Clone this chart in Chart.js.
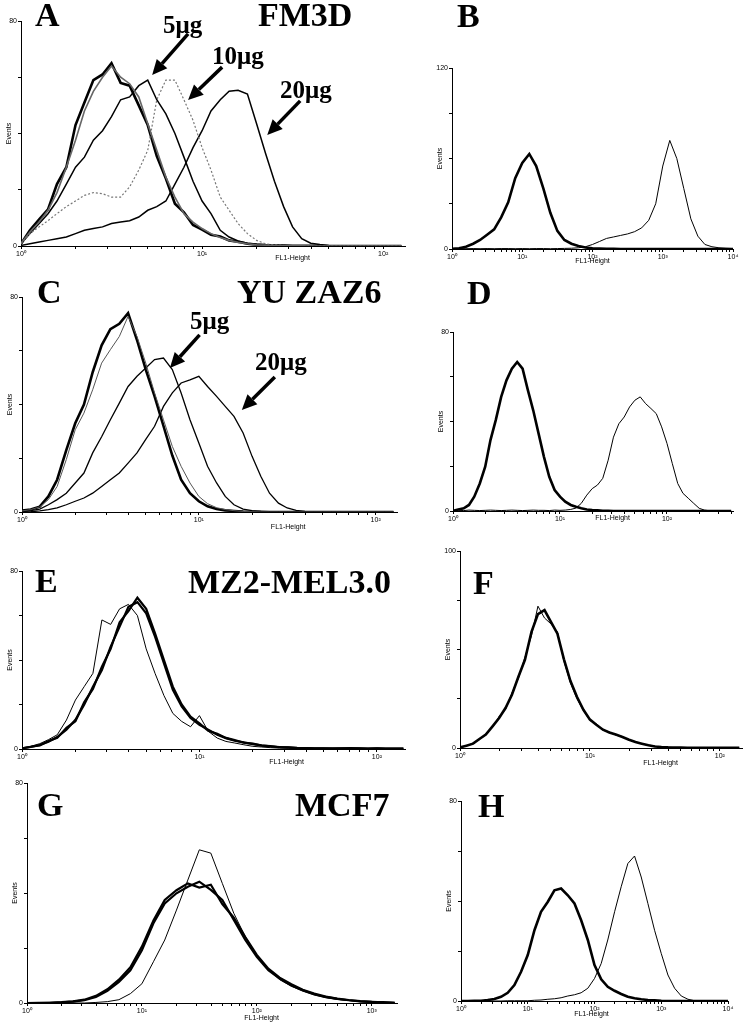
<!DOCTYPE html>
<html>
<head>
<meta charset="utf-8">
<script src="https://cdn.jsdelivr.net/npm/chart.js@4.4.1/dist/chart.umd.min.js"></script>
<style>
  html, body { margin: 0; padding: 0; background: #fff; }
  #page { position: relative; width: 745px; height: 1023px; overflow: hidden; background: #fff; }
  #page canvas { position: absolute; }
  .tag { position: absolute; font-family: "Liberation Serif", "Times New Roman", serif; font-weight: bold; color: #000; white-space: nowrap; z-index: 2; }
</style>
</head>
<body>
<div id="page"></div>
<script>
// FL1 channel positions on the log axis
const fl1Fine = [1.00, 1.12, 1.26, 1.41, 1.58, 1.78, 2.00, 2.24, 2.51, 2.82,
  3.16, 3.55, 3.98, 4.47, 5.01, 5.62, 6.31, 7.08, 7.94, 8.91,
  10.0, 11.2, 12.6, 14.1, 15.8, 17.8, 20.0, 22.4, 25.1, 28.2,
  31.6, 35.5, 39.8, 44.7, 50.1, 56.2, 63.1, 70.8, 79.4, 89.1,
  100, 112, 126, 141, 158, 178, 200, 224, 251, 282,
  316, 355, 398];
const fl1Coarse = [1.00, 1.26, 1.58, 2.00, 2.51, 3.16, 3.98, 5.01, 6.31, 7.94,
  10.0, 12.6, 15.8, 20.0, 25.1, 31.6, 39.8, 50.1, 63.1, 79.4,
  100, 126, 158, 200, 251, 316, 398, 501, 631, 794,
  1000, 1259, 1585, 1995, 2512, 3162, 3981, 5012, 6310, 7943,
  10000];
const decadeValues = [1, 10, 100, 1000, 10000];
const decadeLabels = ['10⁰', '10¹', '10²', '10³', '10⁴'];

// A - FM3D
const fm3dControl = [0.8, 5.6, 9.5, 13, 22, 28, 43, 51, 59, 61,
  65, 58, 57, 50, 43, 32, 24, 15, 12, 7.5,
  5.8, 4, 3.4, 2, 1.5, 0.8, 0.5, 0.3, 0.2, 0.2,
  0.1, 0.1, 0.1, 0.1, 0, 0, 0, 0, 0, 0, 0, 0, 0];
const fm3dIsotype = [1, 5, 8.5, 12.7, 19, 28, 37.6, 48, 55, 60,
  64, 60, 57.7, 53, 43.5, 34, 24.5, 17.4, 11.5, 8.5,
  6.2, 4.4, 3, 2, 1.3, 0.8, 0.4, 0.3, 0.2, 0.1,
  0.1, 0.1, 0, 0, 0, 0, 0, 0, 0, 0, 0, 0, 0];
const fm3d5ug = [0.8, 4.4, 8, 11.5, 16, 22, 28, 31.6, 37.6, 41,
  46, 52, 53, 57, 59, 52, 47, 40, 31.6, 23,
  16, 11.5, 5.6, 3.2, 1.8, 1, 0.6, 0.4, 0.3, 0.2,
  0.1, 0.1, 0, 0, 0, 0, 0, 0, 0, 0, 0, 0, 0];
const fm3d10ug = [0.8, 4.4, 6.8, 9, 11.5, 14, 16, 18, 19, 18.6,
  17.4, 17.4, 21, 27, 34, 52, 59, 59, 52, 44.7,
  35, 27, 17.4, 12.7, 8, 4.4, 2, 0.8, 0.4, 0.2,
  0.1, 0.1, 0, 0, 0, 0, 0, 0, 0, 0, 0, 0, 0];
const fm3d20ug = [0.2, 0.8, 1.4, 2, 2.6, 3.2, 4.4, 5.6, 6.2, 6.8,
  8, 8.5, 9, 10.3, 12.7, 14, 16, 22, 28, 35,
  41, 48, 52, 55, 55.4, 54, 43.5, 33, 23, 14,
  6.8, 2.6, 1, 0.5, 0.2, 0.1, 0, 0, 0, 0, 0, 0, 0];

// B
const bControl = [0.2, 0.5, 1.5, 3.5, 6, 9.5, 13, 21, 31, 47,
  57, 63, 55, 40, 24, 12, 6, 3.5, 2, 1,
  0.5, 0.3, 0.2, 0.1, 0, 0, 0, 0, 0, 0,
  0, 0, 0, 0, 0, 0, 0, 0, 0, 0, 0];
const bStained = [0.2, 0.3, 0.2, 0.3, 0.2, 0.3, 0.2, 0.3, 0.3, 0.2,
  0.3, 0.2, 0.3, 0.3, 0.2, 0.3, 0.4, 0.5, 0.8, 1.5,
  3, 5, 7, 8, 9, 10, 11.5, 14, 19, 30,
  55, 72, 60, 40, 20, 8.5, 3, 1.5, 0.8, 0.5, 0.3];

// C - YU ZAZ6
const cControl = [0.5, 0.9, 2, 5.8, 12, 23, 33, 40, 52, 62,
  68, 70, 74, 64, 53, 43, 32, 21, 12, 7,
  4, 2.1, 1.1, 0.6, 0.4, 0.2, 0.1, 0.1, 0, 0,
  0, 0, 0, 0, 0, 0, 0, 0, 0, 0, 0, 0, 0];
const cIsotype = [0.4, 0.9, 1.9, 4.6, 9.5, 19.5, 30.6, 36.8, 45.5, 55.4,
  60.4, 65.3, 72.8, 65.3, 55.4, 44.3, 34.3, 24.4, 17, 10.8,
  5.8, 3.1, 1.6, 0.9, 0.5, 0.2, 0.1, 0, 0, 0,
  0, 0, 0, 0, 0, 0, 0, 0, 0, 0, 0, 0, 0];
const c5ug = [0.1, 0.5, 1.1, 2.7, 4.6, 7, 10.8, 14.5, 22, 28,
  34.3, 40.5, 46.7, 50.5, 53.6, 56.7, 57.3, 53, 44.3, 34.3,
  25.7, 17, 10.8, 5.8, 2.7, 1.1, 0.5, 0.2, 0.1, 0,
  0, 0, 0, 0, 0, 0, 0, 0, 0, 0, 0, 0, 0];
const c20ug = [0, 0.1, 0.4, 0.9, 1.5, 2.7, 4, 5.2, 7, 9.5,
  12, 14.5, 18.2, 22, 27, 31.9, 39.3, 44.3, 48, 49.2,
  50.5, 46.7, 43, 39.3, 35.6, 29.4, 20.7, 13.3, 7, 3.3,
  1.5, 0.6, 0.2, 0.1, 0, 0, 0, 0, 0, 0, 0, 0, 0];

// D
const dControl = [0.1, 0.7, 1.2, 2.7, 6.4, 12.3, 19.8, 31.7, 40.6, 51,
  58.4, 63.6, 66.6, 63.6, 54, 45, 34.6, 24.2, 15.3, 9.4,
  6.4, 4.2, 2.7, 1.9, 1.2, 0.7, 0.4, 0.3, 0.1, 0.1,
  0, 0, 0, 0, 0, 0, 0, 0, 0, 0,
  0, 0, 0, 0, 0, 0, 0, 0, 0, 0, 0, 0, 0];
const dStained = [0.2, 0.3, 0.2, 0.4, 0.3, 0.2, 0.3, 0.4, 0.3, 0.2,
  0.3, 0.4, 0.3, 0.2, 0.3, 0.4, 0.3, 0.3, 0.2, 0.4,
  0.3, 0.4, 0.7, 1.3, 3.4, 7.1, 10, 11.6, 14.6, 22.7,
  33, 39, 42, 46.5, 49.5, 51, 48, 45.8, 43.5, 37.6,
  30.2, 21.3, 12.3, 7.9, 5.7, 3.4, 1.2, 0.4, 0.1, 0.1, 0.1, 0.1, 0.1];

// E - MZ2-MEL3.0
const eThin = [0.4, 1.2, 2.4, 4.2, 6.4, 13, 22, 28, 34, 58,
  56, 63, 65, 60, 45, 34, 24, 16, 12.4, 10,
  15, 8, 4.9, 3.4, 2.7, 1.9, 1.2, 0.9, 0.6, 0.4,
  0.3, 0.2, 0.2, 0.1, 0.1, 0.1, 0.1, 0.2, 0.1, 0.1,
  0.1, 0.1, 0.1, 0.1];
const eThickA = [0.3, 0.9, 1.8, 3.3, 5.4, 8.7, 13.1, 19.9, 28, 35.5,
  46, 55, 63.9, 66, 61, 50.5, 38.5, 26.6, 19.1, 13.9,
  10.9, 8.7, 6.4, 4.9, 3.7, 3, 2.2, 1.6, 1.2, 0.9,
  0.7, 0.5, 0.4, 0.3, 0.3, 0.3, 0.3, 0.4, 0.3, 0.2,
  0.3, 0.2, 0.2, 0.2];
const eThickB = [0.3, 1, 1.6, 3.6, 5, 9.5, 12.5, 21, 27, 37,
  45, 57, 62, 68, 63, 52, 40, 28, 20, 14.5,
  11.5, 8.2, 6.8, 5, 4, 2.8, 2.4, 1.5, 1.3, 0.8,
  0.7, 0.4, 0.4, 0.3, 0.3, 0.2, 0.3, 0.3, 0.3, 0.2,
  0.3, 0.2, 0.2, 0.2];

// F
const fThick = [0.3, 1.2, 2.2, 4.6, 6.8, 11, 15.2, 20.3, 27, 36.3,
  44.8, 59, 68, 70, 64, 58, 45, 34, 26, 19.4,
  14.4, 11.8, 9.3, 7.9, 6.8, 5.6, 4.2, 3, 2.2, 1.4,
  0.8, 0.5, 0.3, 0.2, 0.2, 0.1, 0.1, 0.1, 0.1, 0.1,
  0.1, 0.1, 0.1, 0.1];
const fThin = [0.2, 1, 2.5, 4.2, 7.2, 10.5, 16, 19.5, 28, 35.5,
  46, 57, 72, 66, 63, 59, 44, 33, 25, 19,
  14, 12.2, 9, 8.2, 6.5, 5.8, 4, 3.2, 2, 1.5,
  0.9, 0.5, 0.4, 0.2, 0.2, 0.1, 0.1, 0.1, 0.1, 0.1,
  0.1, 0.1, 0.1, 0.1];

// G - MCF7
const gThickA = [0, 0, 0.1, 0.2, 0.5, 1, 2.2, 4.4, 7.7, 11.9,
  19.2, 29, 36.2, 39.9, 42.3, 44.1, 41.1, 37.5, 30.2, 22.9,
  16.8, 11.9, 8.9, 6.4, 4.6, 3.2, 2.2, 1.5, 1, 0.6,
  0.4, 0.2, 0.1];
const gThickB = [0, 0.1, 0.1, 0.3, 0.6, 1.2, 2.6, 5, 8.5, 13,
  20.5, 30, 37.5, 41, 43.5, 42, 43, 36, 31, 24,
  17.5, 12.5, 9.2, 6.8, 4.8, 3.4, 2.3, 1.6, 1.1, 0.7,
  0.4, 0.3, 0.1];
const gThin = [0, 0, 0, 0, 0, 0, 0.2, 0.5, 1.2, 3.4,
  7, 15, 22.9, 33.8, 44.7, 55.7, 54.5, 43.5, 32.6, 24.1,
  17.4, 12.2, 8.5, 6.1, 4.4, 2.9, 1.9, 1.3, 0.9, 0.5,
  0.2, 0.1, 0];

// H
const hControl = [0, 0, 0.1, 0.1, 0.4, 0.8, 1.7, 3.3, 6.4, 11.7,
  18.4, 28.3, 35.7, 39.7, 44.3, 45, 42.3, 39, 32.3, 24.4,
  14.4, 8.7, 5.7, 4.1, 2.8, 1.7, 1.1, 0.7, 0.4, 0.3,
  0.1, 0, 0, 0, 0, 0, 0, 0, 0, 0, 0];
const hStained = [0, 0, 0, 0, 0, 0, 0, 0.1, 0.1, 0.1,
  0.1, 0.3, 0.4, 0.7, 0.9, 1.3, 2, 2.5, 3.3, 5.1,
  9, 15, 24.4, 35.7, 45.7, 55, 58, 49.6, 39, 28.3,
  19, 10.4, 5.1, 2, 0.7, 0.1, 0, 0, 0, 0, 0];

Chart.defaults.font.family = '"Liberation Sans", Arial, sans-serif';
Chart.defaults.color = '#000';

const thick = { color: '#000', width: 2.6 };
const mid = { color: '#000', width: 1.5 };
const thin = { color: '#000', width: 1 };

// panel frames (page pixels of the plot area) and what goes in them
const panels = [
  { x0: 21, x1: 405, yTop: 21, yBottom: 246, xMax: 132, yMax: 80, yStep: 20, grid: fl1Fine,
    series: [[fm3dIsotype, { color: '#666', width: 1.6 }], [fm3d10ug, { color: '#777', width: 1.2, dash: [2, 2] }],
             [fm3d20ug, mid], [fm3d5ug, mid], [fm3dControl, thick]],
    xTitle: { at: 31.6, dy: 12 },
    arrows: [{ from: [8.37, 75.4], to: [5.3, 60.8] }, { from: [12.9, 63.6], to: [8.37, 51.9] }, { from: [34.8, 51.6], to: [22.9, 39.5] }] },
  { x0: 452, x1: 733, yTop: 68, yBottom: 249, xMax: 10000, yMax: 120, yStep: 30, grid: fl1Coarse,
    series: [[bControl, thick], [bStained, thin]], xTitle: { at: 100, dy: 12 } },
  { x0: 22, x1: 397, yTop: 297, yBottom: 512, xMax: 132, yMax: 80, yStep: 20, grid: fl1Fine,
    series: [[cIsotype, { color: '#555', width: 1 }], [c5ug, { color: '#000', width: 1.3 }], [c20ug, { color: '#000', width: 1.3 }], [cControl, thick]],
    xTitle: { at: 32, dy: 15 },
    arrows: [{ from: [10.1, 65.9], to: [6.86, 53.6] }, { from: [26.9, 50.2], to: [17.5, 38] }] },
  { x0: 453, x1: 733, yTop: 332, yBottom: 511, xMax: 414, yMax: 80, yStep: 20, grid: fl1Fine,
    series: [[dControl, thick], [dStained, thin]], xTitle: { at: 31, dy: 7 } },
  { x0: 22, x1: 405, yTop: 571, yBottom: 749, xMax: 144, yMax: 80, yStep: 20, grid: fl1Fine,
    series: [[eThin, thin], [eThickA, { color: '#000', width: 2.2 }], [eThickB, { color: '#000', width: 2.2 }]], xTitle: { at: 31, dy: 13 } },
  { x0: 460, x1: 742, yTop: 551, yBottom: 748, xMax: 148, yMax: 100, yStep: 25, grid: fl1Fine,
    series: [[fThin, thin], [fThick, thick]], xTitle: { at: 35, dy: 15 } },
  { x0: 27, x1: 397, yTop: 783, yBottom: 1003, xMax: 1660, yMax: 80, yStep: 20, grid: fl1Coarse,
    series: [[gThin, thin], [gThickA, { color: '#000', width: 2.2 }], [gThickB, { color: '#000', width: 2.2 }]], xTitle: { at: 110, dy: 15 } },
  { x0: 461, x1: 728, yTop: 801, yBottom: 1001, xMax: 10000, yMax: 80, yStep: 20, grid: fl1Coarse,
    series: [[hControl, thick], [hStained, thin]], xTitle: { at: 90, dy: 13 } }
];

// arrows and the small x title, placed through the chart's own scales
const panelNotes = {
  id: 'panelNotes',
  afterDatasetsDraw(chart, args, opts) {
    const ctx = chart.ctx;
    const xs = chart.scales.x, ys = chart.scales.y;
    ctx.save();
    (opts.arrows || []).forEach(a => {
      const x1 = xs.getPixelForValue(a.from[0]), y1 = ys.getPixelForValue(a.from[1]);
      const x2 = xs.getPixelForValue(a.to[0]), y2 = ys.getPixelForValue(a.to[1]);
      const ang = Math.atan2(y2 - y1, x2 - x1);
      const head = 15, half = 7;
      const bx = x2 - head * Math.cos(ang), by = y2 - head * Math.sin(ang);
      ctx.strokeStyle = '#000';
      ctx.lineWidth = 3.5;
      ctx.beginPath();
      ctx.moveTo(x1, y1);
      ctx.lineTo(bx, by);
      ctx.stroke();
      ctx.fillStyle = '#000';
      ctx.beginPath();
      ctx.moveTo(x2, y2);
      ctx.lineTo(bx + half * Math.sin(ang), by - half * Math.cos(ang));
      ctx.lineTo(bx - half * Math.sin(ang), by + half * Math.cos(ang));
      ctx.closePath();
      ctx.fill();
    });
    if (opts.xTitle) {
      ctx.font = '7px "Liberation Sans", Arial, sans-serif';
      ctx.fillStyle = '#000';
      ctx.textAlign = 'center';
      ctx.textBaseline = 'middle';
      ctx.fillText('FL1-Height', xs.getPixelForValue(opts.xTitle.at), chart.chartArea.bottom + opts.xTitle.dy);
    }
    ctx.restore();
  }
};
Chart.register(panelNotes);

const page = document.getElementById('page');

// decade plus minor (2..9) tick positions up to the axis end
function logTicks(max) {
  const out = [];
  decadeValues.forEach(d => {
    for (let m = 1; m <= 9; m++) {
      if (d * m <= max) out.push({ value: d * m });
    }
  });
  return out;
}

function makePanel(p) {
  const canvas = document.createElement('canvas');
  page.appendChild(canvas);
  const pw = p.x1 - p.x0, ph = p.yBottom - p.yTop;
  const w0 = 16 + pw + 6, h0 = 6 + ph + 22;
  canvas.width = w0;
  canvas.height = h0;
  canvas.style.width = w0 + 'px';
  canvas.style.height = h0 + 'px';

  const datasets = p.series.map(([vals, st]) => ({
    data: vals.map((v, i) => ({ x: p.grid[i], y: v })),
    borderColor: st.color,
    borderWidth: st.width,
    borderDash: st.dash || [],
    pointRadius: 0,
    tension: 0,
    fill: false
  }));

  const chart = new Chart(canvas, {
    type: 'line',
    data: { datasets },
    options: {
      responsive: false,
      maintainAspectRatio: false,
      animation: false,
      layout: { padding: { top: 6, right: 6, left: 0, bottom: 0 } },
      plugins: {
        legend: { display: false },
        tooltip: { enabled: false },
        panelNotes: { arrows: p.arrows, xTitle: p.xTitle }
      },
      scales: {
        x: {
          type: 'logarithmic',
          min: 1,
          max: p.xMax,
          afterBuildTicks: s => { s.ticks = logTicks(p.xMax); },
          afterFit: s => { s.height = 22; },
          ticks: {
            autoSkip: false, maxRotation: 0, minRotation: 0, padding: 1,
            font: { size: 7 }, color: '#000',
            callback: v => { const k = decadeValues.indexOf(v); return k < 0 ? '' : decadeLabels[k]; }
          },
          grid: { drawOnChartArea: false, tickLength: 3, color: '#000' },
          border: { color: '#000', width: 1 }
        },
        y: {
          type: 'linear',
          min: 0,
          max: p.yMax,
          afterFit: s => { s.width = 16; },
          ticks: {
            stepSize: p.yStep, padding: 1, font: { size: 7 }, color: '#000',
            callback: v => (v === 0 || v === p.yMax) ? String(v) : ''
          },
          grid: { drawOnChartArea: false, tickLength: 3, color: '#000' },
          border: { color: '#000', width: 1 },
          title: { display: true, text: 'Events', font: { size: 7 }, color: '#000', padding: 0 }
        }
      }
    }
  });

  let a = chart.chartArea;
  const dw = pw - (a.right - a.left), dh = ph - (a.bottom - a.top);
  if (dw || dh) {
    chart.resize(w0 + dw, h0 + dh);
    a = chart.chartArea;
  }
  canvas.style.left = (p.x0 - a.left) + 'px';
  canvas.style.top = (p.yTop - a.top) + 'px';
}

panels.forEach(makePanel);

// panel letters, cell line names and dose labels: [text, left, baseline, size]
const tags = [
  ['A', 35, 27, 34], ['FM3D', 258, 27, 34], ['B', 457, 28, 34],
  ['C', 37, 304, 34], ['YU ZAZ6', 237, 304, 34], ['D', 467, 305, 34],
  ['E', 35, 593, 34], ['MZ2-MEL3.0', 188, 594, 34], ['F', 473, 595, 34],
  ['G', 37, 817, 34], ['MCF7', 295, 817, 34], ['H', 478, 818, 34],
  ['5μg', 163, 33, 25], ['10μg', 212, 64, 25], ['20μg', 280, 98, 25],
  ['5μg', 190, 329, 25], ['20μg', 255, 370, 25]
];
tags.forEach(([text, left, base, size]) => {
  const el = document.createElement('div');
  el.className = 'tag';
  el.textContent = text;
  el.style.fontSize = size + 'px';
  el.style.lineHeight = size + 'px';
  el.style.left = left + 'px';
  // baseline sits ~0.84 em below the top of a 1em line box in this font
  el.style.top = (base - 0.84 * size) + 'px';
  page.appendChild(el);
});
</script>
</body>
</html>
